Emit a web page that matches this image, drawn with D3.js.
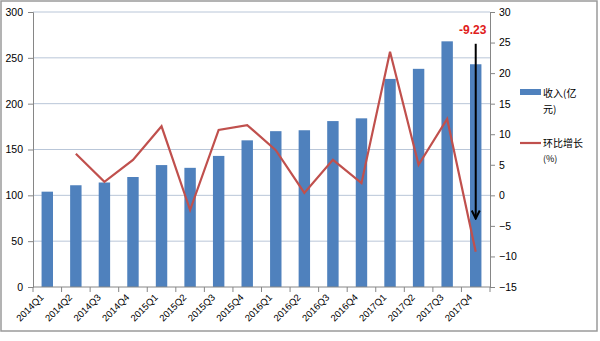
<!DOCTYPE html>
<html>
<head>
<meta charset="utf-8">
<script src="https://cdn.jsdelivr.net/npm/d3@7"></script>
<style>
  body { margin: 0; background: #fff; }
  text { font-family: Calibri, "Liberation Sans", "Noto Sans CJK SC", sans-serif; }
</style>
</head>
<body>
<div id="chart"></div>
<script>
const quarters = ["2014Q1","2014Q2","2014Q3","2014Q4","2015Q1","2015Q2","2015Q3","2015Q4",
  "2016Q1","2016Q2","2016Q3","2016Q4","2017Q1","2017Q2","2017Q3","2017Q4"];
const revenue = [104, 111, 114, 120, 133, 130, 143, 160, 170, 171, 181, 184, 227, 238, 268, 243];
// first quarter has no previous value
const qoqGrowth = [null, 6.8, 2.2, 5.8, 11.3, -2.4, 10.7, 11.5, 7.4, 0.4, 5.8, 2.0, 23.5, 5.0, 12.5, -9.23];
const leftTicks = [0, 50, 100, 150, 200, 250, 300];
const rightTicks = [-15, -10, -5, 0, 5, 10, 15, 20, 25, 30];

const width = 600, height = 341;
const marginLeft = 33, marginRight = 110, marginTop = 12, marginBottom = 54;
const x0 = marginLeft, x1 = width - marginRight;
const y0 = height - marginBottom, y1 = marginTop;

const svg = d3.select("#chart").append("svg")
  .attr("width", width).attr("height", height);

// outer frame
svg.append("rect")
  .attr("x", 1).attr("y", 1).attr("width", 596).attr("height", 330)
  .attr("fill", "#fff").attr("stroke", "#9a9a9a").attr("stroke-width", 1.5);

const x = d3.scaleBand(quarters, [x0, x1]).paddingInner(0.6).paddingOuter(0.3);
const yL = d3.scaleLinear([0, 300], [y0, y1]);
const yR = d3.scaleLinear([-15, 30], [y0, y1]);

// gridlines
svg.append("g").selectAll("line")
  .data(leftTicks.filter(d => d > 0))
  .join("line")
  .attr("x1", x0).attr("x2", x1)
  .attr("y1", d => yL(d)).attr("y2", d => yL(d))
  .attr("stroke", "#b9c6d8").attr("stroke-width", 1);

// bars
svg.append("g").selectAll("rect")
  .data(revenue)
  .join("rect")
  .attr("x", (d, i) => x(quarters[i]))
  .attr("y", d => yL(d))
  .attr("width", x.bandwidth())
  .attr("height", d => y0 - yL(d))
  .attr("fill", "#4f81bd");

// growth line
const line = d3.line()
  .defined(d => d != null)
  .x((d, i) => x(quarters[i]) + x.bandwidth() / 2)
  .y(d => yR(d));
svg.append("path")
  .attr("d", line(qoqGrowth))
  .attr("fill", "none")
  .attr("stroke", "#c0504d")
  .attr("stroke-width", 2.2)
  .attr("stroke-linejoin", "miter");

// left axis
const axL = svg.append("g")
  .attr("transform", `translate(${x0},0)`)
  .call(d3.axisLeft(yL).tickValues(leftTicks).tickSize(5).tickPadding(5));
// right axis
const axR = svg.append("g")
  .attr("transform", `translate(${x1},0)`)
  .call(d3.axisRight(yR).tickValues(rightTicks).tickSize(5).tickPadding(4));
[axL, axR].forEach(ax => {
  ax.select(".domain").attr("stroke", "#868686");
  ax.selectAll(".tick line").attr("stroke", "#868686");
  ax.selectAll("text").attr("font-size", 10.5).attr("fill", "#000")
    .style("font-family", "\"Liberation Sans\", sans-serif");
});

// x axis
const step = (x1 - x0) / quarters.length;
const axB = svg.append("g").attr("transform", `translate(0,${y0})`);
axB.append("line").attr("x1", x0).attr("x2", x1).attr("stroke", "#868686");
axB.selectAll("line.tk")
  .data(d3.range(quarters.length + 1))
  .join("line")
  .attr("class", "tk")
  .attr("x1", i => x0 + i * step)
  .attr("x2", i => x0 + i * step)
  .attr("y1", 0).attr("y2", 5)
  .attr("stroke", "#868686");
axB.selectAll("text")
  .data(quarters)
  .join("text")
  .attr("transform", d => `translate(${x(d) + x.bandwidth() / 2 - 3},${11}) rotate(-45)`)
  .attr("text-anchor", "end")
  .attr("font-size", 9.5)
  .style("font-family", "\"Liberation Sans\", sans-serif")
  .text(d => d);

// arrow annotation
const lastX = x(quarters[15]) + x.bandwidth() / 2;
svg.append("defs").append("marker")
  .attr("id", "arr").attr("viewBox", "0 0 10 10")
  .attr("refX", 9).attr("refY", 5)
  .attr("markerWidth", 5).attr("markerHeight", 5)
  .attr("orient", "auto")
  .append("path").attr("d", "M1,1 L9,5 L1,9").attr("fill", "none")
  .attr("stroke", "#000").attr("stroke-width", 2);
svg.append("line")
  .attr("x1", lastX).attr("x2", lastX)
  .attr("y1", yR(24.8)).attr("y2", yR(-3.8))
  .attr("stroke", "#000").attr("stroke-width", 2)
  .attr("marker-end", "url(#arr)");
svg.append("text")
  .attr("x", lastX - 3).attr("y", 34)
  .attr("text-anchor", "middle")
  .attr("fill", "#e0201b").attr("font-weight", "bold").attr("font-size", 12)
  .style("font-family", "\"Liberation Sans\", sans-serif")
  .text(qoqGrowth[15].toFixed(2));

// legend
const lg = svg.append("g").attr("transform", "translate(520,0)");
lg.append("rect").attr("x", 0).attr("y", 89).attr("width", 21).attr("height", 6).attr("fill", "#4f81bd");
lg.append("text").attr("x", 23).attr("y", 97).attr("font-size", 10).text("收入(亿");
lg.append("text").attr("x", 23).attr("y", 113).attr("font-size", 10).text("元)");
lg.append("line").attr("x1", 0).attr("x2", 21).attr("y1", 143).attr("y2", 143)
  .attr("stroke", "#c0504d").attr("stroke-width", 2.2);
lg.append("text").attr("x", 23).attr("y", 147).attr("font-size", 10).text("环比增长");
lg.append("text").attr("x", 23).attr("y", 162).attr("font-size", 9).text("(%)");
lg.selectAll("text").style("font-family", "\"Noto Sans CJK SC\", sans-serif");
</script>
</body>
</html>
